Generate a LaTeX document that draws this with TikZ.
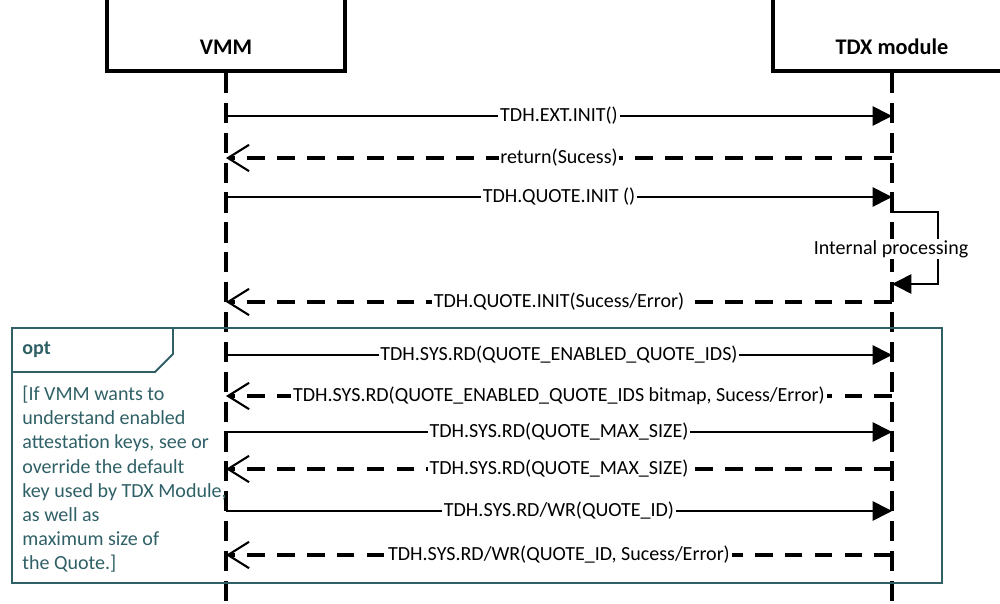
\documentclass[tikz,border=0pt]{standalone}
\usepackage{fontspec}
\setmainfont{Carlito}
\usetikzlibrary{arrows.meta, positioning}
\definecolor{optteal}{HTML}{2F6066}

\tikzset{
    headbox/.style={draw, line width=2.4pt, minimum width=4.76cm, minimum height=2cm, anchor=south},
    headtext/.style={font=\fontsize{12.7}{15}\selectfont\bfseries},
    lifeline/.style={line width=2pt, dash pattern=on 11.5pt off 5.5pt},
    call/.style={line width=0.9pt, -{Triangle[length=11pt,width=11pt]}},
    reply/.style={line width=1.9pt, dash pattern=on 10pt off 7pt, -{Straight Barb[length=12pt,width=15pt,line width=1.2pt]}},
    msg/.style={midway, fill=white, inner xsep=1pt, inner ysep=0pt, font=\fontsize{11.4}{13.7}\selectfont},
    optframe/.style={draw=optteal, line width=1.1pt},
    opttext/.style={text=optteal, inner sep=0pt, align=left, font=\fontsize{11.4}{13.7}\selectfont}
}

\begin{document}
\begin{tikzpicture}[x=0.02cm, y=-0.02cm]
    \useasboundingbox (0,0) rectangle (1000,604);
    \clip (0,0) rectangle (1000,604);

    % participants
    \node[headbox] (vmm) at (226,73) {};
    \node[headbox] (tdx) at (892,73) {};
    \node[headtext] (vmmname) at (226,47) {VMM};
    \node[headtext] (tdxname) at (892,47) {TDX module};

    \coordinate (vmmend) at (226,610);
    \coordinate (tdxend) at (892,610);
    \draw[lifeline] (vmm.south) -- (vmmend);
    \draw[lifeline] (tdx.south) -- (tdxend);

    % points on the lifelines
    \coordinate (v1) at (226,116);  \coordinate (t1) at (892,116);
    \coordinate (v2) at (226,158);  \coordinate (t2) at (892,158);
    \coordinate (v3) at (226,197);  \coordinate (t3) at (892,197);
    \coordinate (v4) at (226,302);  \coordinate (t4) at (892,302);
    \coordinate (v5) at (226,355);  \coordinate (t5) at (892,355);
    \coordinate (v6) at (226,396);  \coordinate (t6) at (892,396);
    \coordinate (v7) at (226,432);  \coordinate (t7) at (892,432);
    \coordinate (v8) at (226,469);  \coordinate (t8) at (892,469);
    \coordinate (v9) at (226,511);  \coordinate (t9) at (892,511);
    \coordinate (v10) at (226,555); \coordinate (t10) at (892,555);
    \coordinate (loopa) at (892,212);
    \coordinate (loopb) at (892,284);

    % opt fragment
    \draw[optframe] (12,328) rectangle (942,583);
    \draw[optframe] (12,372) -- (155,372) -- (173,354) -- (173,328);
    \node[opttext, anchor=west, font=\fontsize{11.4}{13.7}\selectfont\bfseries] (opt) at (22,350) {opt};
    \node[opttext, anchor=north west] (cond) at (22,386) {[If VMM wants to\\understand enabled\\attestation keys, see or\\override the default\\key used by TDX Module,\\as well as\\maximum size of\\the Quote.]};

    % messages
    \draw[call] (v1) -- (t1) node[msg] {TDH.EXT.INIT()};
    \draw[reply] (t2) -- (v2) node[msg] {return(Sucess)};
    \draw[call] (v3) -- (t3) node[msg] {TDH.QUOTE.INIT ()};
    \draw[call] (loopa) -- ++(46,0) |- (loopb);
    \node[fill=white, inner xsep=1pt, inner ysep=1pt, font=\fontsize{11.4}{13.7}\selectfont] (internal) at (891,249) {Internal processing};
    \draw[reply] (t4) -- (v4) node[msg] {TDH.QUOTE.INIT(Sucess/Error)};
    \draw[call] (v5) -- (t5) node[msg] {TDH.SYS.RD(QUOTE\_ENABLED\_QUOTE\_IDS)};
    \draw[reply] (t6) -- (v6) node[msg] {TDH.SYS.RD(QUOTE\_ENABLED\_QUOTE\_IDS bitmap, Sucess/Error)};
    \draw[call] (v7) -- (t7) node[msg] {TDH.SYS.RD(QUOTE\_MAX\_SIZE)};
    \draw[reply] (t8) -- (v8) node[msg] {TDH.SYS.RD(QUOTE\_MAX\_SIZE)};
    \draw[call] (v9) -- (t9) node[msg] {TDH.SYS.RD/WR(QUOTE\_ID)};
    \draw[reply] (t10) -- (v10) node[msg] {TDH.SYS.RD/WR(QUOTE\_ID, Sucess/Error)};
\end{tikzpicture}
\end{document}
